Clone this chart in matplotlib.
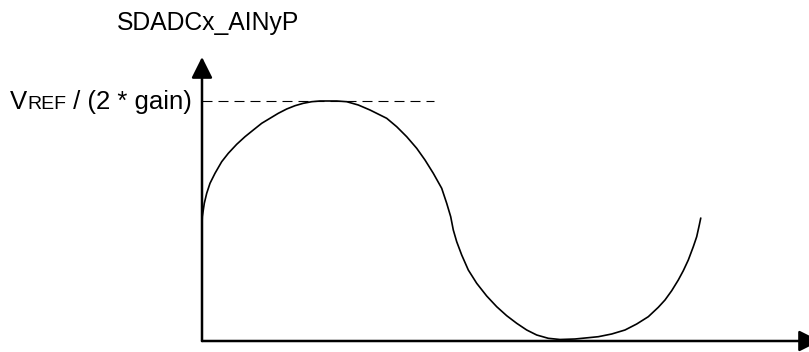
import matplotlib
matplotlib.use("Agg")
import matplotlib.pyplot as plt

plt.rcParams["font.family"] = ["Liberation Sans", "DejaVu Sans"]

# curve: t = time, v = signal above the x axis
t_vals = [0, 0.3, 2.3, 4.7, 8, 13, 19.7, 26.3, 34.7, 43, 51.3, 59.7, 68,
          76.3, 84.7, 93, 101.3, 109.7, 118, 126.3, 134.7, 144.7, 156.3,
          168, 184.7, 194.7, 204.7, 214.7, 223, 231.3, 239.7, 244.7, 248.7,
          251.3, 254.7, 259.7, 266.3, 274.7, 284.7, 294.7, 304.7, 314.7,
          324.7, 334.7, 346.3, 358, 373, 386.3, 396.3, 409.7, 423, 434.7,
          446.3, 456.3, 463, 469.7, 476.3, 481.3, 486.3, 491.3, 494.7,
          497.3, 498.7]
v_vals = [116, 124.3, 137.7, 147.7, 157.7, 167.7, 179.3, 187.7, 196.7,
          204.3, 211, 217.7, 222.7, 227.7, 232, 235.3, 237.7, 239.3, 240,
          240, 240, 239.3, 236, 231, 222.7, 214.3, 204.3, 192.7, 181, 167.7,
          152.7, 137.7, 124.3, 111, 99.3, 86, 71, 57.7, 45, 34.3, 25.3, 17.7,
          11, 6, 2.7, 1.5, 2, 3.3, 4.3, 7, 11, 17, 24.3, 33.7, 41, 50.3, 61,
          70.3, 81, 94.3, 104.3, 116, 122.7]

v_peak = 240
dash_end = 232
y_label = "SDADCx_AINyP"
level_main = "V"
level_sub = "REF"
level_rest = " / (2 * gain)"

fig = plt.figure(figsize=(8.09, 3.52), dpi=100)
ax = fig.add_axes([0, 0, 1, 1])
ax.set_xlim(-202, 607)
ax.set_ylim(-11, 341)
ax.axis("off")

# axes with arrow heads
arrow = dict(arrowstyle="-|>", color="black", lw=1.8, mutation_scale=32,
             shrinkA=0, shrinkB=0)
ax.annotate("", xy=(0, 284), xytext=(0, 0), arrowprops=arrow)
ax.annotate("", xy=(618, 0), xytext=(0, 0), arrowprops=arrow,
            annotation_clip=False)

# dashed reference level
ax.plot([0, dash_end], [v_peak, v_peak], color="black", lw=0.8,
        dashes=(9, 5.4))

ax.plot(t_vals, v_vals, color="black", lw=1.2, solid_joinstyle="round")

ax.text(-85, 311, y_label, fontsize=17.8, ha="left", va="baseline")

# label with small-caps subscript, built right to left
renderer = fig.canvas.get_renderer()
inv = ax.transData.inverted()
x = -10
for s, size in [(level_rest, 18.5), (level_sub, 14), (level_main, 18.5)]:
    txt = ax.text(x, 231.7, s, fontsize=size, ha="right", va="baseline")
    bb = txt.get_window_extent(renderer)
    x = inv.transform((bb.x0, 0))[0]

fig.savefig("out.png", dpi=100)
